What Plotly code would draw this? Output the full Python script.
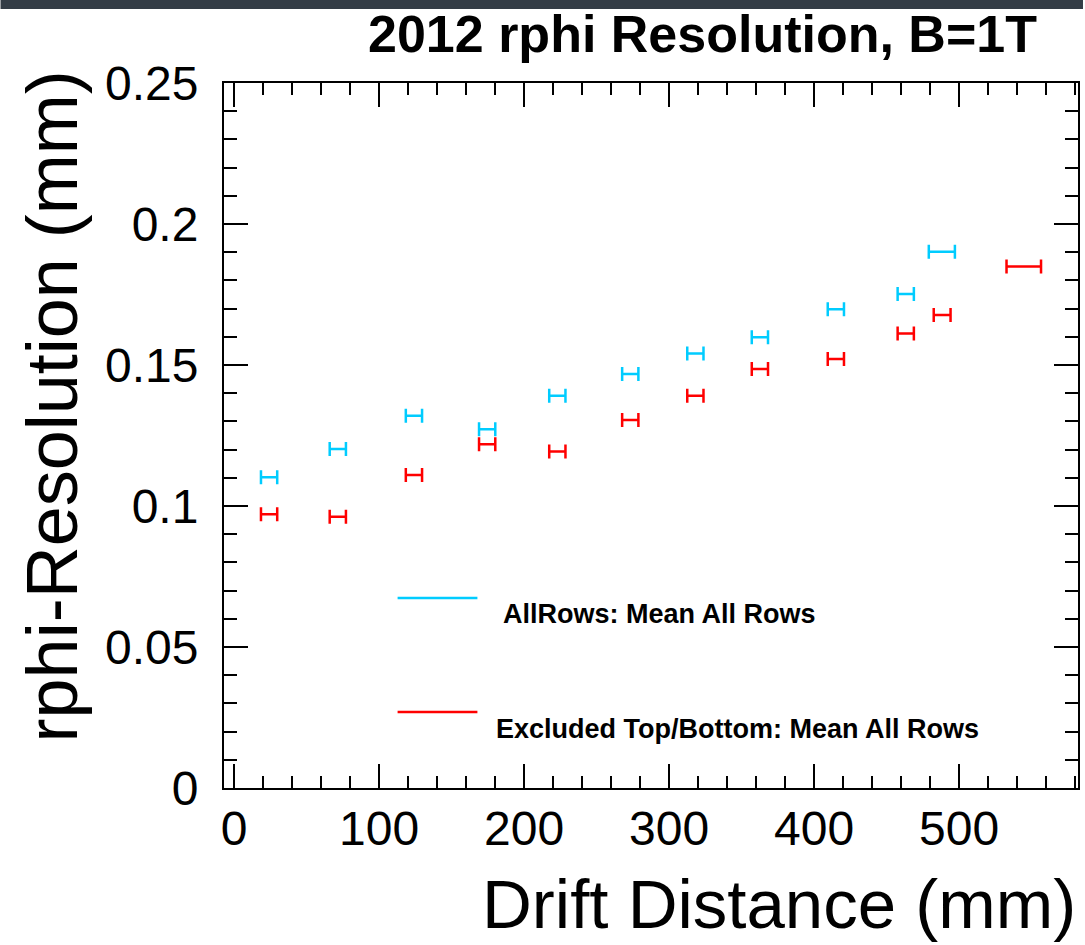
import plotly.graph_objects as go

# ---- data ----
x_all = [24.1, 71.5, 124.0, 174.5, 222.9, 273.2, 318.1, 362.6, 415.0, 463.2, 488.1]
xerr_all = [5.6, 5.6, 5.6, 5.6, 5.6, 5.6, 5.6, 5.6, 5.6, 5.6, 9.0]
y_all = [0.1102, 0.1202, 0.1320, 0.1272, 0.1391, 0.1468, 0.1541, 0.1598, 0.1698, 0.1752, 0.1902]

x_excl = [24.1, 71.5, 124.0, 174.5, 222.9, 273.2, 318.1, 362.6, 415.0, 463.2, 488.3, 544.6]
xerr_excl = [5.6, 5.6, 5.6, 5.6, 5.6, 5.6, 5.6, 5.6, 5.6, 5.6, 5.8, 11.9]
y_excl = [0.0971, 0.0962, 0.1110, 0.1219, 0.1193, 0.1305, 0.1391, 0.1486, 0.1521, 0.1612, 0.1677, 0.1849]

x_ticks = [0, 100, 200, 300, 400, 500]
y_ticks = [0, 0.05, 0.1, 0.15, 0.2, 0.25]
y_tick_text = ["0", "0.05", "0.1", "0.15", "0.2", "0.25"]

title_text = "2012 rphi Resolution, B=1T"
x_title = "Drift Distance (mm)"
y_title = "rphi-Resolution (mm)"
legend_labels = ["AllRows: Mean All Rows", "Excluded Top/Bottom: Mean All Rows"]

CYAN = "#00ccff"
RED = "#ff0000"
FONT = "Liberation Sans, Arial, Helvetica, sans-serif"

W, H = 1085, 945
L, R, T, B = 224, 1080, 83, 788  # plot frame in px


def px(xp):
    return (xp - L) / (R - L)


def py(yp):
    return (B - yp) / (B - T)


fig = go.Figure()

for xs, ys, xe, col, name in [
    (x_all, y_all, xerr_all, CYAN, legend_labels[0]),
    (x_excl, y_excl, xerr_excl, RED, legend_labels[1]),
]:
    fig.add_trace(go.Scatter(
        x=xs, y=ys, mode="markers", name=name,
        marker=dict(size=1, color=col, opacity=0),
        error_x=dict(type="data", array=xe, visible=True, color=col,
                     thickness=2.5, width=7),
        showlegend=False,
    ))

axis_common = dict(
    showline=True, linecolor="black", linewidth=2, mirror="allticks",
    ticks="inside", ticklen=24, tickwidth=2, tickcolor="black",
    showgrid=False, zeroline=False,
    tickfont=dict(family=FONT, size=48, color="black"),
)

fig.update_xaxes(
    range=[-7, 582], tickmode="array", tickvals=x_ticks,
    minor=dict(dtick=20, tick0=0, ticks="inside", ticklen=12, tickwidth=2,
               tickcolor="black", showgrid=False),
    ticklabelstandoff=-3,
    **axis_common,
)
fig.update_yaxes(
    range=[0, 0.25], tickmode="array", tickvals=y_ticks, ticktext=y_tick_text,
    minor=dict(dtick=0.01, tick0=0, ticks="inside", ticklen=13, tickwidth=2,
               tickcolor="black", showgrid=False),
    ticklabelstandoff=14,
    **axis_common,
)

shapes = [
    # dark strip at the very top of the page
    dict(type="rect", xref="paper", yref="paper", x0=px(0), x1=px(W),
         y0=py(0), y1=py(9), fillcolor="#343d46", line=dict(width=0), layer="above"),
    # legend lines
    dict(type="line", xref="paper", yref="paper", x0=px(398), x1=px(478),
         y0=py(598), y1=py(598), line=dict(color=CYAN, width=2.5)),
    dict(type="line", xref="paper", yref="paper", x0=px(398), x1=px(478),
         y0=py(712), y1=py(712), line=dict(color=RED, width=2.5)),
]

annotations = [
    dict(text="<b>%s</b>" % title_text, xref="paper", yref="paper",
         x=px(1041), y=py(34), xanchor="right", yanchor="middle", showarrow=False,
         font=dict(family=FONT, size=52, color="black")),
    dict(text="<b>%s</b>" % legend_labels[0], xref="paper", yref="paper",
         x=px(502), y=py(614), xanchor="left", yanchor="middle", showarrow=False,
         font=dict(family=FONT, size=27, color="black")),
    dict(text="<b>%s</b>" % legend_labels[1], xref="paper", yref="paper",
         x=px(495), y=py(729), xanchor="left", yanchor="middle", showarrow=False,
         font=dict(family=FONT, size=27, color="black")),
    dict(text=x_title, xref="paper", yref="paper",
         x=px(1080), y=py(905), xanchor="right", yanchor="middle", showarrow=False,
         font=dict(family=FONT, size=69, color="black")),
    dict(text=y_title, xref="paper", yref="paper", textangle=-90,
         x=px(52), y=py(406), xanchor="center", yanchor="middle", showarrow=False,
         font=dict(family=FONT, size=72, color="black")),
]

fig.update_layout(
    width=W, height=H,
    margin=dict(l=L, r=W - R, t=T, b=H - B, pad=0),
    paper_bgcolor="white", plot_bgcolor="white",
    shapes=shapes, annotations=annotations,
    showlegend=False,
)

fig.write_html(
    "out.html",
    config={"displayModeBar": False},
    post_script="document.body.style.margin='0';document.body.style.overflow='hidden';",
)
